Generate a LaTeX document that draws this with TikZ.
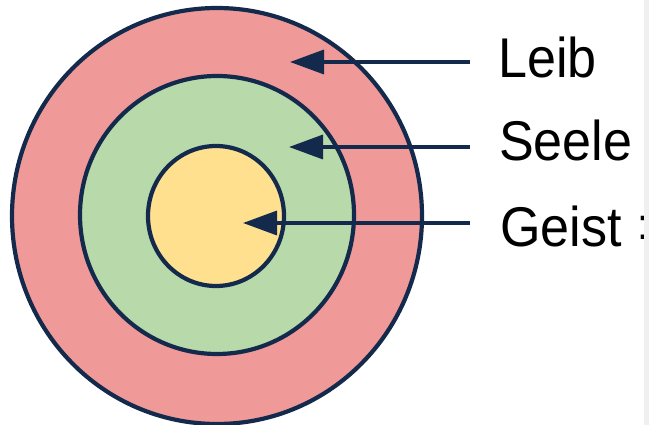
\documentclass[tikz,border=0pt]{standalone}
\usepackage{fontspec}
\setmainfont{Liberation Sans}[FakeStretch=0.93]
\usetikzlibrary{arrows.meta,shapes.geometric}
\definecolor{navy}{HTML}{142A4C}
\definecolor{leibc}{HTML}{EF9A98}
\definecolor{seelec}{HTML}{B8D9AA}
\definecolor{geistc}{HTML}{FFE08E}
\definecolor{stripc}{HTML}{F0F0F0}
\tikzset{
  ring/.style={ellipse, draw=navy, line width=4.2pt, inner sep=0pt},
  pointer/.style={draw=navy, line width=3.5pt, -{Triangle[length=34pt,width=24pt]}},
  label/.style={anchor=base west, inner sep=0pt, font=\fontsize{56}{60}\selectfont, text=black}
}
\begin{document}
\begin{tikzpicture}[x=1pt,y=-1pt]
\useasboundingbox (0,0) rectangle (649,425);
\fill[white] (0,0) rectangle (649,425);
\node[ring, fill=leibc, minimum width=410pt, minimum height=416pt] (outer) at (217,216) {};
\node[ring, fill=seelec, minimum width=274pt, minimum height=278pt] (middle) at (217,215) {};
\node[ring, fill=geistc, minimum width=136pt, minimum height=140pt] (inner) at (216,216) {};
\coordinate (s1) at (470,62);
\coordinate (t1) at (290,62);
\coordinate (s2) at (470,147);
\coordinate (t2) at (289,147);
\coordinate (s3) at (470,223);
\coordinate (t3) at (243,223);
\draw[pointer] (s1) -- (t1);
\draw[pointer] (s2) -- (t2);
\draw[pointer] (s3) -- (t3);
\node[label] (leib) at (498,78) {Leib};
\node[label] (seele) at (499,161) {Seele};
\node[label] (geist) at (500,247) {Geist};
\node[anchor=base west, inner sep=0pt, font=\fontsize{44}{48}\selectfont] (colon) at (637,240) {:};
\fill[stripc] (644,0) rectangle (649,425);
\end{tikzpicture}
\end{document}
